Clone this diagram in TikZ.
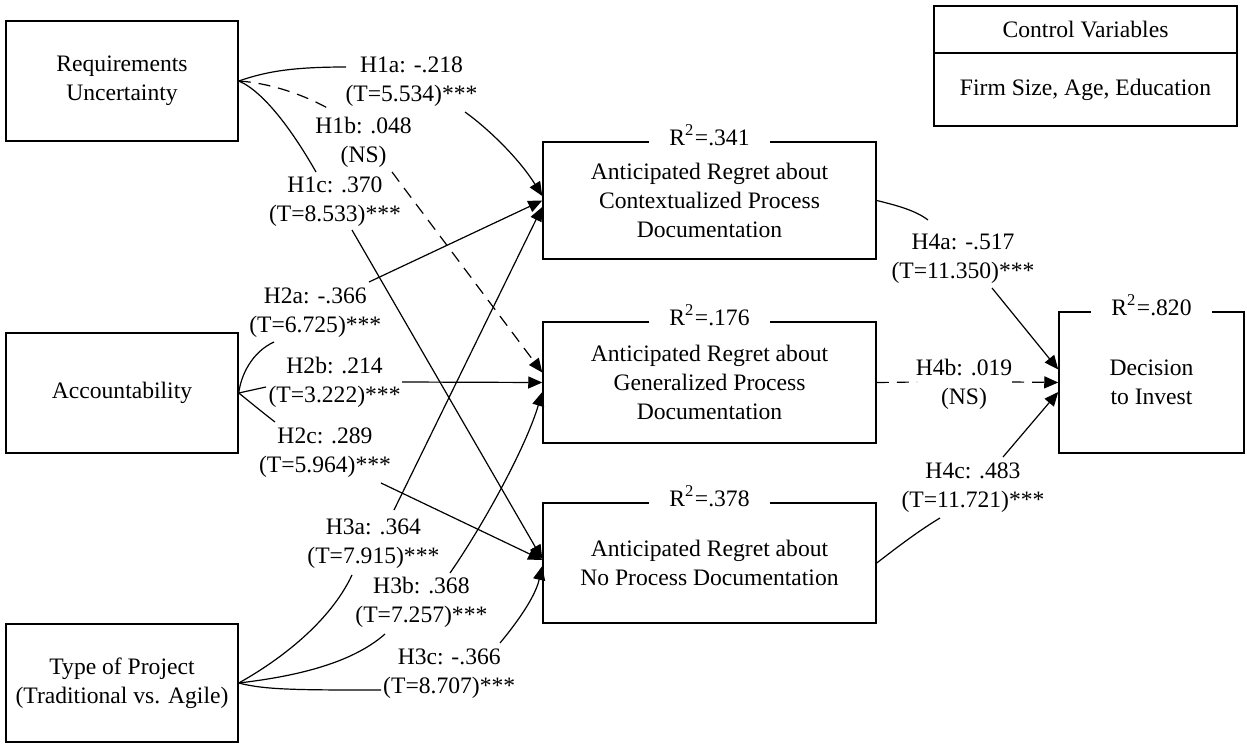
\documentclass[tikz,border=0pt]{standalone}
\usepackage{fontspec}
\setmainfont{Liberation Serif}
\usetikzlibrary{arrows.meta}
\begin{document}
\begin{tikzpicture}[x=1pt,y=-1pt,
  every node/.style={font=\fontsize{23.6}{29}\selectfont},
  box/.style={draw, line width=1.5pt, align=center, inner sep=0pt},
  lab/.style={align=center, inner sep=0pt},
  rsq/.style={fill=white, inner xsep=20pt, inner ysep=1pt, anchor=base},
  conn/.style={line width=1.2pt},
  arr/.style={conn, -{Triangle[length=14pt,width=12pt]}},
  ns/.style={dash pattern=on 12pt off 8pt}]
\useasboundingbox (0,0) rectangle (1247,744);

% boxes
\node[box, minimum width=232pt, minimum height=120pt] (RU) at (122,81) {Requirements\\Uncertainty};
\node[box, minimum width=232pt, minimum height=120pt] (AC) at (122,393) {Accountability};
\node[box, minimum width=232pt, minimum height=118pt] (TP) at (122,683) {Type of Project\\(Traditional vs. Agile)};
\node[box, minimum width=333pt, minimum height=117pt] (C) at (709.5,200.5) {Anticipated Regret about\\Contextualized Process\\Documentation};
\node[box, minimum width=333pt, minimum height=121pt] (G) at (709.5,382.5) {Anticipated Regret about\\Generalized Process\\Documentation};
\node[box, minimum width=333pt, minimum height=120pt] (N) at (709.5,563) {Anticipated Regret about\\No Process Documentation};
\node[box, minimum width=185pt, minimum height=141pt] (D) at (1151.5,382.5) {Decision\\to Invest};
\node[box, minimum width=303pt, minimum height=47pt] (CV) at (1085.5,29.5) {Control Variables};
\node[box, minimum width=303pt, minimum height=73pt] (FS) at (1085.5,89.5) {Firm Size, Age, Education};

% R squared
\node[rsq] (rC) at (709.5,145) {R\textsuperscript{2}\kern1pt=.341};
\node[rsq] (rG) at (709.5,325) {R\textsuperscript{2}\kern1pt=.176};
\node[rsq] (rN) at (709.5,506) {R\textsuperscript{2}\kern1pt=.378};
\node[rsq] (rD) at (1151.5,315) {R\textsuperscript{2}\kern1pt=.820};

% path labels
\node[lab] (L1a) at (411.5,82) {H1a: -.218\\(T=5.534)***};
\node[lab] (L1b) at (363.6,142) {H1b: .048\\(NS)};
\node[lab] (L1c) at (335,202) {H1c: .370\\(T=8.533)***};
\node[lab] (L2a) at (315.3,313) {H2a: -.366\\(T=6.725)***};
\node[lab] (L2b) at (334.6,382.5) {H2b: .214\\(T=3.222)***};
\node[lab] (L2c) at (325,452.5) {H2c: .289\\(T=5.964)***};
\node[lab] (L3a) at (373.4,544) {H3a: .364\\(T=7.915)***};
\node[lab] (L3b) at (421.4,602.5) {H3b: .368\\(T=7.257)***};
\node[lab] (L3c) at (449.2,674) {H3c: -.366\\(T=8.707)***};
\node[lab] (L4a) at (963,258.3) {H4a: -.517\\(T=11.350)***};
\node[lab] (L4b) at (964,384) {H4b: .019\\(NS)};
\node[lab] (L4c) at (973,487.5) {H4c: .483\\(T=11.721)***};

% break points of connectors at labels
\coordinate (a1in) at (346,67);  \coordinate (a1out) at (465,112);
\coordinate (b1in) at (331,110); \coordinate (b1out) at (392,172);
\coordinate (c1in) at (316,172); \coordinate (c1out) at (352,230);
\coordinate (a2in) at (274,342); \coordinate (a2out) at (369,282);
\coordinate (b2in) at (266,387); \coordinate (b2out) at (402,382);
\coordinate (c2in) at (275,422); \coordinate (c2out) at (381,483);
\coordinate (a3in) at (352,575); \coordinate (a3out) at (394,510);
\coordinate (b3in) at (385,634); \coordinate (b3out) at (450,573);
\coordinate (c3in) at (381,690); \coordinate (c3out) at (500,643);
\coordinate (a4in) at (928,220); \coordinate (a4out) at (992,288);
\coordinate (b4in) at (917,382); \coordinate (b4out) at (1012,382);
\coordinate (c4in) at (940,518); \coordinate (c4out) at (1003,457);

% H1
\draw[conn] (RU.east) .. controls (265,72) and (290,67) .. (a1in);
\draw[arr] (a1out) .. controls (490,130) and (520,160) .. ([yshift=4.5pt]C.west);
\draw[conn,ns] (RU.east) .. controls (270,83) and (305,95) .. (b1in);
\draw[arr,ns] (b1out) -- ([yshift=10pt]G.west);
\draw[conn] (RU.east) .. controls (265,92) and (295,135) .. (c1in);
\draw[arr] (c1out) -- ([yshift=4pt]N.west);
% H2
\draw[conn] (AC.east) .. controls (241,375) and (252,352) .. (a2in);
\draw[arr] (a2out) -- (C.west);
\draw[conn] (AC.east) -- (b2in);
\draw[arr] (b2out) -- (G.west);
\draw[conn] (AC.east) .. controls (250,402) and (262,412) .. (c2in);
\draw[arr] (c2out) -- ([yshift=3pt]N.west);
% H3
\draw[conn] (TP.east) .. controls (280,660) and (330,622) .. (a3in);
\draw[arr] (a3out) -- ([yshift=-6.5pt]C.west);
\draw[conn] (TP.east) .. controls (290,677) and (350,665) .. (b3in);
\draw[arr] (b3out) .. controls (480,530) and (525,450) .. ([yshift=-9.5pt]G.west);
\draw[conn] (TP.east) .. controls (265,690) and (300,690) .. (c3in);
\draw[arr] (c3out) .. controls (515,625) and (535,598) .. ([yshift=-3pt]N.west);
% H4
\draw[conn] (C.east) .. controls (895,205) and (915,210) .. (a4in);
\draw[arr] (a4out) -- ([yshift=13pt]D.west);
\draw[conn,ns] (G.east) -- (b4in);
\draw[arr,ns] (b4out) -- (D.west);
\draw[conn] (N.east) .. controls (900,545) and (920,530) .. (c4in);
\draw[arr] (c4out) -- ([yshift=-9.5pt]D.west);
\end{tikzpicture}
\end{document}
